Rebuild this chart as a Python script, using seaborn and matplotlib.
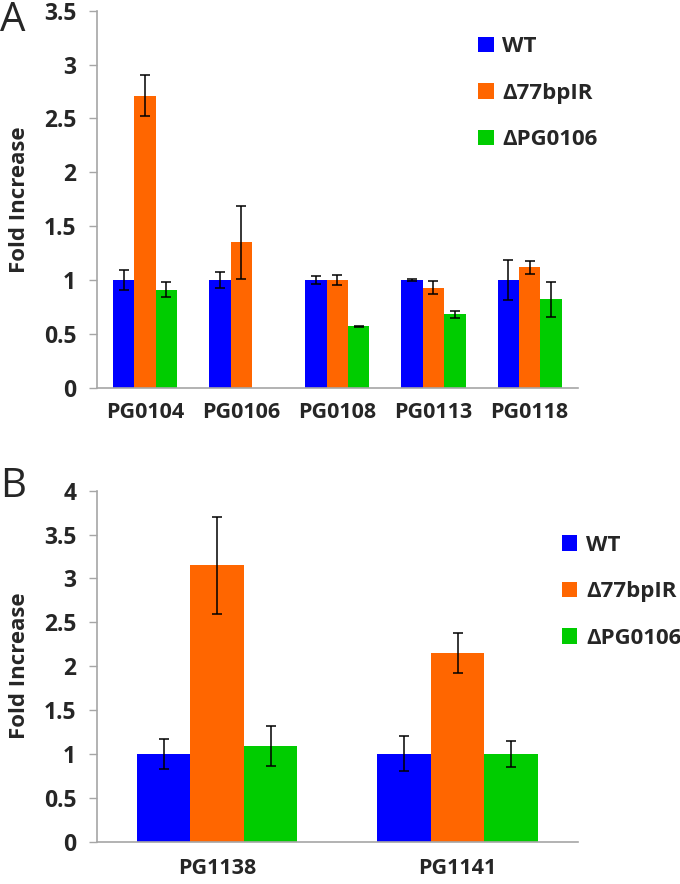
import numpy as np
import pandas as pd
import matplotlib
matplotlib.use("Agg")
import matplotlib.pyplot as plt
import seaborn as sns

# Panel A values
genes_a = ["PG0104", "PG0106", "PG0108", "PG0113", "PG0118"]
wt_a = [1.0, 1.0, 1.0, 1.0, 1.0]
wt_a_err = [0.095, 0.075, 0.04, 0.005, 0.19]
ir_a = [2.71, 1.35, 1.0, 0.93, 1.12]
ir_a_err = [0.19, 0.34, 0.05, 0.06, 0.06]
pg_a = [0.91, np.nan, 0.57, 0.68, 0.82]
pg_a_err = [0.07, np.nan, 0.005, 0.035, 0.165]

# Panel B values
genes_b = ["PG1138", "PG1141"]
wt_b = [1.0, 1.0]
wt_b_err = [0.175, 0.2]
ir_b = [3.15, 2.15]
ir_b_err = [0.555, 0.23]
pg_b = [1.09, 1.0]
pg_b_err = [0.23, 0.145]

strains = ["WT", "\u039477bpIR", "\u0394PG0106"]
colors = ["#0000FF", "#FF6600", "#00CC00"]

sns.set_style("white")
plt.rcParams["font.family"] = ["Open Sans", "DejaVu Sans"]
plt.rcParams["font.weight"] = "bold"


def make_df(genes, vals, errs):
    rows = []
    for s, v, e in zip(strains, vals, errs):
        for g, vv, ee in zip(genes, v, e):
            rows.append({"gene": g, "strain": s, "value": vv, "err": ee})
    return pd.DataFrame(rows)


df_a = make_df(genes_a, [wt_a, ir_a, pg_a], [wt_a_err, ir_a_err, pg_a_err])
df_b = make_df(genes_b, [wt_b, ir_b, pg_b], [wt_b_err, ir_b_err, pg_b_err])

fig = plt.figure(figsize=(6.8, 8.84), dpi=100)
ax_a = fig.add_axes([0.1426, 0.5614, 0.707, 0.4265])
ax_b = fig.add_axes([0.1426, 0.0479, 0.707, 0.397])


def draw_panel(ax, df, genes, ymax, legend_anchor, xpad):
    sns.barplot(data=df, x="gene", y="value", hue="strain", order=genes,
                hue_order=strains, palette=colors, saturation=1,
                width=0.667, errorbar=None, ax=ax, linewidth=0)
    # error bars on top of the bars
    for s, cont in zip(strains, ax.containers):
        sub = df[df["strain"] == s].set_index("gene")
        for rect in cont:
            h = rect.get_height()
            if np.isnan(h):
                continue
            xc = rect.get_x() + rect.get_width() / 2
            g = genes[int(round(xc))]
            e = sub.loc[g, "err"]
            if np.isnan(e):
                continue
            ax.errorbar(xc, h, yerr=e, fmt="none", ecolor="black",
                        elinewidth=1.1, capsize=3.8, capthick=1.1)

    ax.set_xlim(-0.5, len(genes) - 0.5)
    ax.set_ylim(0, ymax)
    yt = np.arange(0, ymax + 0.01, 0.5)
    ax.set_yticks(yt)
    ax.set_yticklabels([f"{v:g}" for v in yt], fontweight="bold", fontsize=16.5)
    ax.set_xticks(range(len(genes)))
    ax.set_xticklabels(genes, fontweight="bold", fontsize=15.5)
    ax.set_xticks(np.arange(-0.5, len(genes), 1), minor=True)
    ax.tick_params(axis="x", which="major", length=0, pad=xpad)
    ax.tick_params(axis="x", which="minor", length=7, color="#a6a6a6", width=1)
    ax.tick_params(axis="y", length=6, color="#a6a6a6", width=1, pad=9,
                   left=True)
    sns.despine(ax=ax)
    for sp in ["left", "bottom"]:
        ax.spines[sp].set_color("#a6a6a6")
        ax.spines[sp].set_linewidth(1.2)
    ax.set_xlabel("")
    ax.set_ylabel("Fold Increase", fontsize=16, fontweight="bold")
    ax.yaxis.set_label_coords(-0.139, 0.5)

    handles, labels = ax.get_legend_handles_labels()
    ax.legend(handles, labels, loc="upper left", bbox_to_anchor=legend_anchor,
              bbox_transform=fig.transFigure, frameon=False, handlelength=0.7,
              handleheight=0.7, handletextpad=0.4, labelspacing=1.15,
              borderaxespad=0, borderpad=0,
              prop={"weight": "bold", "size": 16})


draw_panel(ax_a, df_a, genes_a, 3.5, (0.703, 0.959), 10)
draw_panel(ax_b, df_b, genes_b, 4, (0.826, 0.395), 12)

fig.text(0.0, 0.999, "A", fontsize=29, fontweight="normal", va="top", ha="left")
fig.text(0.0, 0.472, "B", fontsize=29, fontweight="normal", va="top", ha="left")

plt.savefig("out.png", dpi=100)
